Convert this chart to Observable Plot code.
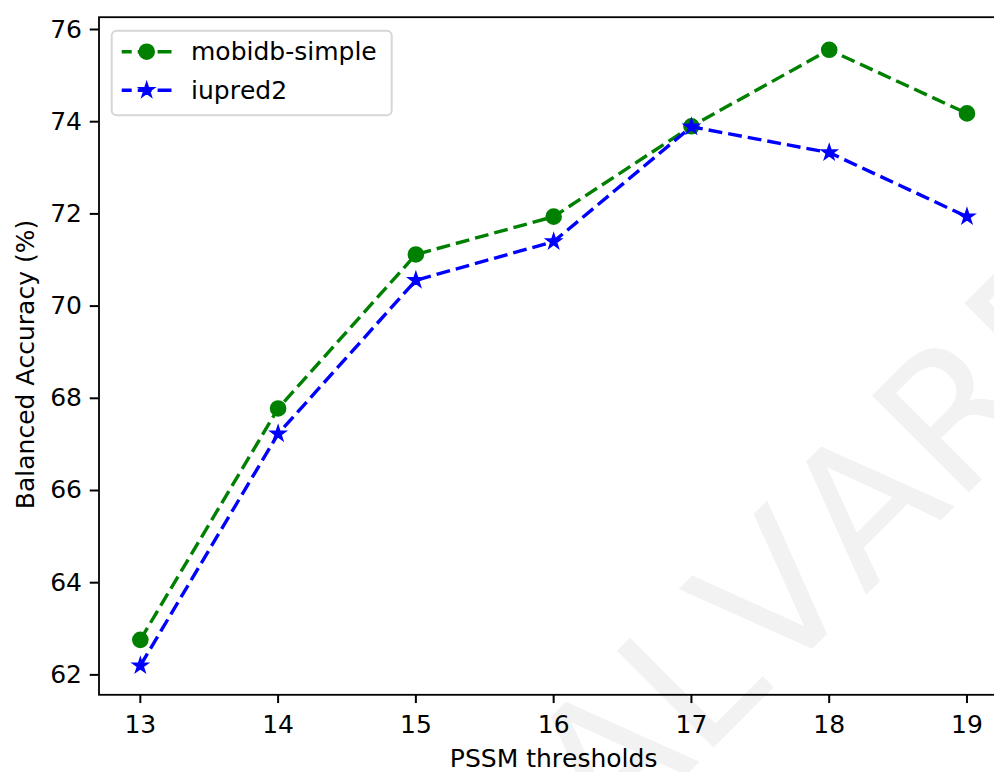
<!DOCTYPE html>
<html><head><meta charset="utf-8">
<script src="https://cdn.jsdelivr.net/npm/d3@7"></script>
<script src="https://cdn.jsdelivr.net/npm/@observablehq/plot@0.6"></script>
<style>
html,body{margin:0;padding:0;background:#fff;overflow:hidden}
#wrap{position:relative;width:994px;height:772px}
#wrap > svg{overflow:hidden;display:block}
#wrap text{font-kerning:none}
#legend{position:absolute;left:0;top:0;pointer-events:none}
</style></head><body><div id="wrap"></div>
<script>
const thresholds = [13, 14, 15, 16, 17, 18, 19];
const mobidbSimple = [62.76, 67.78, 71.12, 71.94, 73.90, 75.56, 74.18];
const iupred2 = [62.20, 67.23, 70.56, 71.40, 73.89, 73.33, 71.94];
const seriesNames = ["mobidb-simple", "iupred2"];
const seriesColors = ["green", "blue"];
const seriesSymbols = ["circle", "star"];
const xTicks = [13, 14, 15, 16, 17, 18, 19];
const yTicks = [62, 64, 66, 68, 70, 72, 74, 76];
const xLabel = "PSSM thresholds";
const yLabel = "Balanced Accuracy (%)";
const watermark = "ALVAREZ";

const FONT = "DejaVu Sans";
const FS = 25;

const mobTable = thresholds.map((t, i) => ({t, v: mobidbSimple[i]}));
const iupTable = thresholds.map((t, i) => ({t, v: iupred2[i]}));

const dash = "13.9 6";
const lw = 3.4;

const plot = Plot.plot({
  width: 994,
  height: 772,
  marginLeft: 98.5,
  marginRight: -13.8,
  marginTop: 16.7,
  marginBottom: 77.7,
  style: {fontFamily: FONT, fontSize: FS + "px", background: "white", color: "black", overflow: "hidden"},
  x: {domain: [12.7, 19.3]},
  y: {domain: [61.568, 76.267]},
  marks: [
    Plot.text([watermark], {text: d => d, frameAnchor: "bottom-left", dx: 510.8, dy: 156.4, rotate: -45,
      fontSize: 187.5, fill: "#f2f2f2", textAnchor: "start", lineAnchor: "bottom", fontFamily: FONT}),
    Plot.line(mobTable, {x: "t", y: "v", stroke: seriesColors[0], strokeWidth: lw, strokeDasharray: dash, strokeLinecap: "butt", strokeLinejoin: "round"}),
    Plot.dot(mobTable, {x: "t", y: "v", symbol: seriesSymbols[0], r: 7.2, fill: seriesColors[0], stroke: seriesColors[0], strokeWidth: 2.2}),
    Plot.line(iupTable, {x: "t", y: "v", stroke: seriesColors[1], strokeWidth: lw, strokeDasharray: dash, strokeLinecap: "butt", strokeLinejoin: "round"}),
    Plot.dot(iupTable, {x: "t", y: "v", symbol: seriesSymbols[1], r: 4.3, fill: seriesColors[1], stroke: seriesColors[1], strokeWidth: 2, strokeLinejoin: "miter"}),
    Plot.frame({stroke: "black", strokeWidth: 1.8}),
    Plot.axisX({ticks: xTicks, tickSize: 8.75, tickPadding: 12, strokeWidth: 2, fontSize: FS, label: null, tickFormat: d => String(d)}),
    Plot.axisY({ticks: yTicks, tickSize: 8.75, tickPadding: 8.25, strokeWidth: 2, fontSize: FS, label: null, tickFormat: d => String(d)}),
    Plot.text([xLabel], {text: d => d, frameAnchor: "bottom", textAnchor: "middle", dy: 72.5, lineAnchor: "bottom", fontSize: FS, fontFamily: FONT}),
    Plot.text([yLabel], {text: d => d, frameAnchor: "left", textAnchor: "middle", dx: -65.5, dy: 8.5, rotate: -90, lineAnchor: "bottom", fontSize: FS, fontFamily: FONT})
  ]
});

const wrap = document.getElementById("wrap");
wrap.appendChild(plot);

// legend overlay
const lg = d3.create("svg").attr("id", "legend").attr("width", 994).attr("height", 772);
lg.append("rect").attr("x", 111.7).attr("y", 30.7).attr("width", 280).attr("height", 84.5)
  .attr("rx", 5).attr("fill", "white").attr("fill-opacity", 0.8)
  .attr("stroke", "#d6d6d6").attr("stroke-width", 2);
const rowsY = [51.7, 90.2];
const symSize = [Math.PI * 7.2 * 7.2, Math.PI * 4.3 * 4.3];
const symType = [d3.symbolCircle, d3.symbolStar];
const symStroke = [2.2, 2];
seriesNames.forEach((name, i) => {
  const y = rowsY[i];
  lg.append("line").attr("x1", 121.7).attr("x2", 171.7).attr("y1", y).attr("y2", y)
    .attr("stroke", seriesColors[i]).attr("stroke-width", lw).attr("stroke-dasharray", dash)
    .attr("stroke-dashoffset", 3.9);
  lg.append("path").attr("d", d3.symbol(symType[i], symSize[i])())
    .attr("transform", `translate(146.7,${y})`)
    .attr("fill", seriesColors[i]).attr("stroke", seriesColors[i]).attr("stroke-width", symStroke[i]);
  lg.append("text").attr("x", 191).attr("y", y + 8.7).text(name)
    .attr("font-family", FONT).attr("font-size", FS).attr("fill", "black");
});
wrap.appendChild(lg.node());
</script>
</body></html>
